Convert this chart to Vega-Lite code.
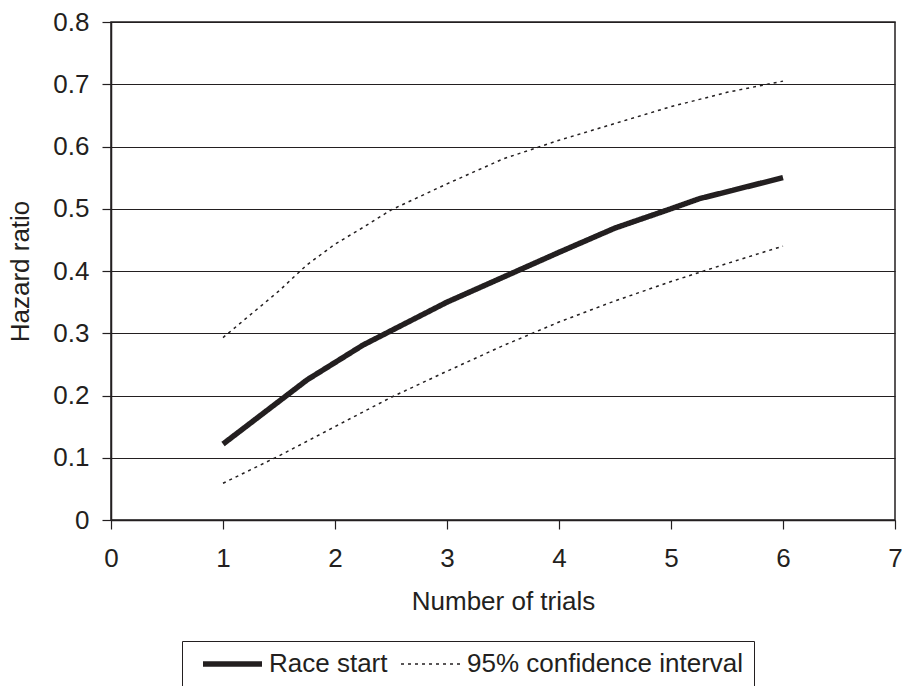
{
  "$schema": "https://vega.github.io/schema/vega-lite/v6.json",
  "autosize": {"type": "none"},
  "width": 784,
  "height": 498,
  "padding": {"left": 111, "top": 22, "right": 7, "bottom": 166},
  "background": "white",
  "config": {
    "font": "Liberation Sans",
    "view": {"stroke": "#231f20", "strokeWidth": 1.5},
    "axis": {
      "labelFont": "Liberation Sans",
      "titleFont": "Liberation Sans",
      "labelFontSize": 26,
      "titleFontSize": 26,
      "labelColor": "#231f20",
      "titleColor": "#231f20",
      "titleFontWeight": "normal",
      "domainColor": "#231f20",
      "domainWidth": 1.5,
      "tickColor": "#231f20",
      "tickWidth": 1.2,
      "tickSize": 9
    },
    "legend": {
      "labelFont": "Liberation Sans",
      "labelFontSize": 26,
      "labelColor": "#231f20"
    }
  },
  "data": {
    "values": [
      {"trials": 1, "ratio": 0.122, "series": "Race start", "curve": "estimate"},
      {"trials": 1.75, "ratio": 0.225, "series": "Race start", "curve": "estimate"},
      {"trials": 2.25, "ratio": 0.281, "series": "Race start", "curve": "estimate"},
      {"trials": 3, "ratio": 0.35, "series": "Race start", "curve": "estimate"},
      {"trials": 3.5, "ratio": 0.39, "series": "Race start", "curve": "estimate"},
      {"trials": 4, "ratio": 0.43, "series": "Race start", "curve": "estimate"},
      {"trials": 4.5, "ratio": 0.469, "series": "Race start", "curve": "estimate"},
      {"trials": 5, "ratio": 0.5, "series": "Race start", "curve": "estimate"},
      {"trials": 5.25, "ratio": 0.516, "series": "Race start", "curve": "estimate"},
      {"trials": 6, "ratio": 0.55, "series": "Race start", "curve": "estimate"},

      {"trials": 1, "ratio": 0.293, "series": "95% confidence interval", "curve": "upper"},
      {"trials": 1.5, "ratio": 0.368, "series": "95% confidence interval", "curve": "upper"},
      {"trials": 1.75, "ratio": 0.41, "series": "95% confidence interval", "curve": "upper"},
      {"trials": 2, "ratio": 0.443, "series": "95% confidence interval", "curve": "upper"},
      {"trials": 2.25, "ratio": 0.47, "series": "95% confidence interval", "curve": "upper"},
      {"trials": 2.5, "ratio": 0.498, "series": "95% confidence interval", "curve": "upper"},
      {"trials": 3, "ratio": 0.54, "series": "95% confidence interval", "curve": "upper"},
      {"trials": 3.5, "ratio": 0.58, "series": "95% confidence interval", "curve": "upper"},
      {"trials": 4, "ratio": 0.61, "series": "95% confidence interval", "curve": "upper"},
      {"trials": 4.5, "ratio": 0.637, "series": "95% confidence interval", "curve": "upper"},
      {"trials": 5, "ratio": 0.664, "series": "95% confidence interval", "curve": "upper"},
      {"trials": 5.5, "ratio": 0.687, "series": "95% confidence interval", "curve": "upper"},
      {"trials": 6, "ratio": 0.705, "series": "95% confidence interval", "curve": "upper"},

      {"trials": 1, "ratio": 0.059, "series": "95% confidence interval", "curve": "lower"},
      {"trials": 1.5, "ratio": 0.103, "series": "95% confidence interval", "curve": "lower"},
      {"trials": 2, "ratio": 0.15, "series": "95% confidence interval", "curve": "lower"},
      {"trials": 2.5, "ratio": 0.197, "series": "95% confidence interval", "curve": "lower"},
      {"trials": 3, "ratio": 0.239, "series": "95% confidence interval", "curve": "lower"},
      {"trials": 3.5, "ratio": 0.28, "series": "95% confidence interval", "curve": "lower"},
      {"trials": 4, "ratio": 0.318, "series": "95% confidence interval", "curve": "lower"},
      {"trials": 4.5, "ratio": 0.352, "series": "95% confidence interval", "curve": "lower"},
      {"trials": 5, "ratio": 0.383, "series": "95% confidence interval", "curve": "lower"},
      {"trials": 5.5, "ratio": 0.412, "series": "95% confidence interval", "curve": "lower"},
      {"trials": 6, "ratio": 0.44, "series": "95% confidence interval", "curve": "lower"}
    ]
  },
  "mark": {"type": "line", "color": "#231f20"},
  "encoding": {
    "x": {
      "field": "trials",
      "type": "quantitative",
      "title": "Number of trials",
      "scale": {"domain": [0, 7], "nice": false, "zero": false},
      "axis": {
        "values": [0, 1, 2, 3, 4, 5, 6, 7],
        "grid": false,
        "labelPadding": 16,
        "titlePadding": 17,
        "labelFlush": false
      }
    },
    "y": {
      "field": "ratio",
      "type": "quantitative",
      "title": "Hazard ratio",
      "scale": {"domain": [0, 0.8], "nice": false},
      "axis": {
        "values": [0, 0.1, 0.2, 0.3, 0.4, 0.5, 0.6, 0.7, 0.8],
        "format": "~g",
        "grid": true,
        "gridColor": "#231f20",
        "gridWidth": 1.2,
        "labelPadding": 13,
        "titlePadding": 19,
        "labelFlush": false
      }
    },
    "detail": {"field": "curve"},
    "strokeDash": {
      "field": "series",
      "type": "nominal",
      "scale": {"domain": ["Race start", "95% confidence interval"], "range": [[1, 0], [3, 4]]},
      "legend": {
        "title": null,
        "orient": "none",
        "legendX": 71,
        "legendY": 619,
        "direction": "horizontal",
        "strokeColor": "#231f20",
        "padding": 10,
        "symbolType": "M-0.2,0H5.7",
        "symbolSize": 400,
        "symbolStrokeColor": "#231f20",
        "columnPadding": 2,
        "labelOffset": 51,
        "labelLimit": 400
      }
    },
    "strokeWidth": {
      "field": "series",
      "type": "nominal",
      "scale": {"domain": ["Race start", "95% confidence interval"], "range": [5.5, 1.5]},
      "legend": {
        "title": null,
        "orient": "none",
        "legendX": 71,
        "legendY": 619,
        "direction": "horizontal",
        "strokeColor": "#231f20",
        "padding": 10,
        "symbolType": "M-0.2,0H5.7",
        "symbolSize": 400,
        "symbolStrokeColor": "#231f20",
        "columnPadding": 2,
        "labelOffset": 51,
        "labelLimit": 400
      }
    }
  }
}
